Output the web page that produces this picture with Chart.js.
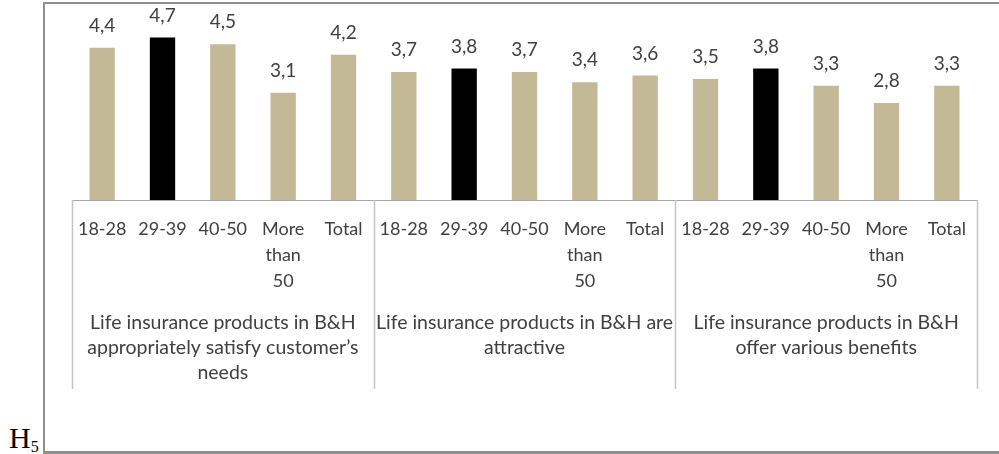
<!DOCTYPE html>
<html lang="en">
<head>
<meta charset="UTF-8">
<script src="https://cdn.jsdelivr.net/npm/chart.js"></script>
<style>
    body {
        margin: 0;
        width: 999px;
        height: 454px;
        background: #fff;
        position: relative;
        overflow: hidden;
    }
    .frame {
        position: absolute;
        left: 43px;
        top: 2px;
        width: 970px;
        height: 447px;
        border-top: 2px solid #8e8e8e;
        border-left: 2px solid #8e8e8e;
        border-bottom: 3px solid #8e8e8e;
    }
    .wrap {
        position: absolute;
        left: 45px;
        top: 4px;
        width: 954px;
        height: 446px;
    }
    .hlabel {
        position: absolute;
        left: 9px;
        top: 421px;
        font-family: "Liberation Serif", serif;
        font-size: 30px;
        color: #000;
    }
    .hlabel sub {
        font-size: 16px;
        vertical-align: -4px;
    }
</style>
</head>
<body>
<div class="hlabel">H<sub>5</sub></div>
<div class="frame"></div>
<div class="wrap"><canvas id="chart" width="954" height="446"></canvas></div>
<script>
    // statements (groups) and age categories
    const groupLabels = [
        ["Life insurance products in B&H", "appropriately satisfy customer\u2019s", "needs"],
        ["Life insurance products in B&H are", "attractive"],
        ["Life insurance products in B&H", "offer various benefits"]
    ];
    const ageLabels = ["18-28", "29-39", "40-50", ["More", "than", "50"], "Total"];
    const highlightAge = "29-39";

    // mean scores, 5 per statement
    const satisfyValues = [4.4, 4.7, 4.5, 3.1, 4.2];
    const attractiveValues = [3.7, 3.8, 3.7, 3.4, 3.6];
    const benefitValues = [3.5, 3.8, 3.3, 2.8, 3.3];

    const categories = [].concat(ageLabels, ageLabels, ageLabels);
    const values = [].concat(satisfyValues, attractiveValues, benefitValues);

    const textColor = "#404040";
    const fontFamily = "Lato, 'Open Sans', sans-serif";

    // value labels above each bar
    const valueLabels = {
        id: "valueLabels",
        afterDatasetsDraw(chart) {
            const ctx = chart.ctx;
            const meta = chart.getDatasetMeta(0);
            ctx.save();
            ctx.fillStyle = textColor;
            ctx.font = "19px " + fontFamily;
            ctx.textAlign = "center";
            ctx.textBaseline = "middle";
            meta.data.forEach((bar, i) => {
                const txt = values[i].toFixed(1).replace(".", ",");
                ctx.fillText(txt, bar.x, bar.y - 22);
            });
            ctx.restore();
        }
    };

    // vertical separators between statement groups
    const groupLines = {
        id: "groupLines",
        afterDraw(chart) {
            const ctx = chart.ctx;
            const x = chart.scales.x;
            const top = chart.chartArea.bottom;
            const n = ageLabels.length;
            const half = (x.getPixelForValue(1) - x.getPixelForValue(0)) / 2;
            ctx.save();
            ctx.strokeStyle = "#c4c4c4";
            ctx.lineWidth = 1.5;
            for (let g = 0; g <= groupLabels.length; g++) {
                const px = g === 0 ? x.left : x.getPixelForValue(g * n - 1) + half;
                ctx.beginPath();
                ctx.moveTo(Math.round(px) + 0.5, top);
                ctx.lineTo(Math.round(px) + 0.5, top + 189);
                ctx.stroke();
            }
            ctx.restore();
        }
    };

    new Chart(document.getElementById("chart"), {
        type: "bar",
        data: {
            labels: categories,
            datasets: [{
                data: values,
                backgroundColor: c => categories[c.dataIndex] === highlightAge ? "#000000" : "#c4b996",
                categoryPercentage: 1,
                barPercentage: 0.42
            }]
        },
        options: {
            responsive: false,
            animation: false,
            layout: { padding: { left: 27, right: 22, top: 23, bottom: 58 } },
            plugins: { legend: { display: false }, tooltip: { enabled: false } },
            scales: {
                y: {
                    display: false,
                    min: 0,
                    max: 5
                },
                x: {
                    grid: { display: false },
                    border: { display: true, color: "#a6a6a6", width: 1 },
                    ticks: {
                        color: textColor,
                        font: { family: fontFamily, size: 18, lineHeight: 1.45 },
                        maxRotation: 0,
                        autoSkip: false,
                        padding: 8
                    },
                    afterFit: s => { s.height = 96; }
                },
                x2: {
                    type: "category",
                    position: "bottom",
                    labels: groupLabels,
                    offset: true,
                    grid: { display: false },
                    border: { display: false },
                    ticks: {
                        color: textColor,
                        font: { family: fontFamily, size: 19.5, lineHeight: 1.28 },
                        maxRotation: 0,
                        autoSkip: false,
                        padding: 6
                    },
                    afterFit: s => { s.height = 96; }
                }
            }
        },
        plugins: [valueLabels, groupLines]
    });
</script>
</body>
</html>
